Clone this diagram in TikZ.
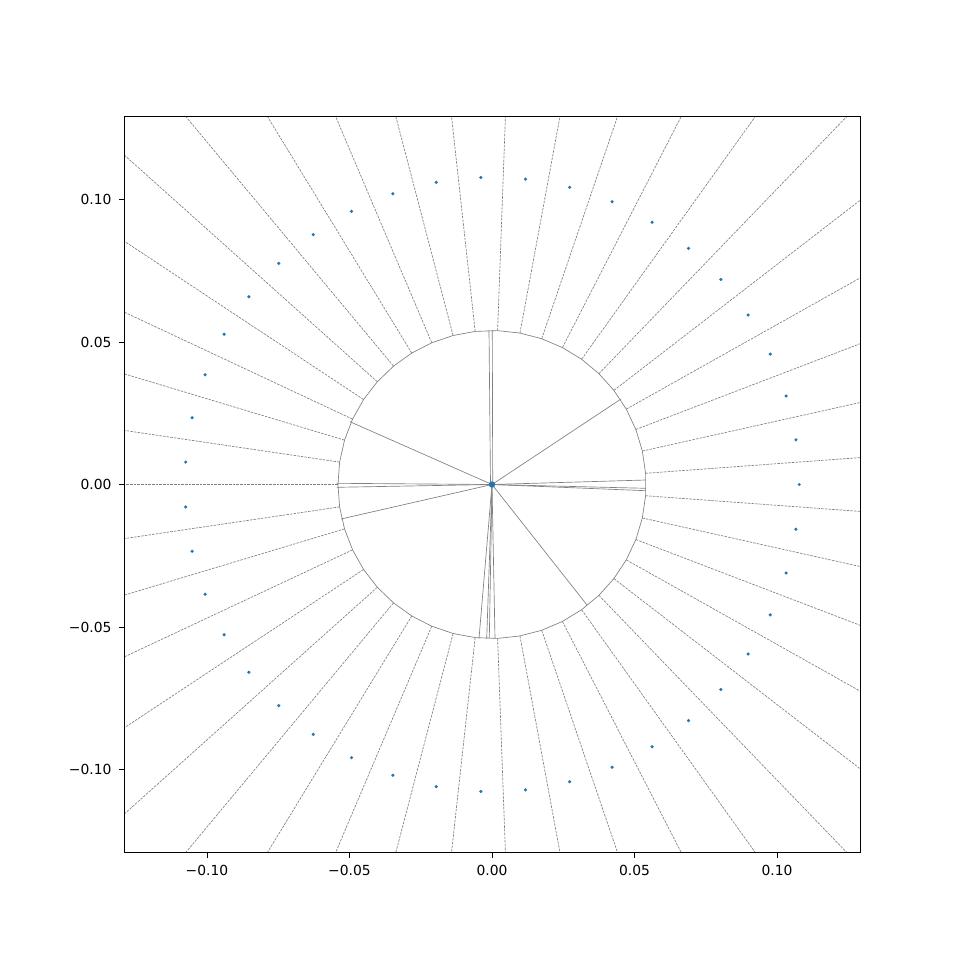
\documentclass[tikz,border=0pt]{standalone}
\usepackage{fontspec}
\setmainfont{DejaVu Sans}
\definecolor{mplblue}{HTML}{1F77B4}
\begin{document}
\begin{tikzpicture}[x=0.75pt,y=-0.75pt,
  ridge/.style={draw=black!50, line width=0.5pt},
  farridge/.style={draw=black!50, line width=0.5pt, dash pattern=on 1.9pt off 0.85pt},
  site/.style={fill=mplblue, draw=none},
  axisframe/.style={draw=black, line width=0.83pt},
  tickmark/.style={draw=black, line width=0.6pt},
  ticklabel/.style={inner sep=0pt, font=\fontsize{10.4}{12}\selectfont}]
\useasboundingbox (0,0) rectangle (960,960);
\coordinate (C) at (492,484.5);
\begin{scope}[shift={(C)}, x=2137.5pt, y=2137.5pt]
  \coordinate (LL) at (-0.129044,-0.129274);
  \coordinate (UR) at (0.129331,0.129274);
  \begin{scope}
    \clip (LL) rectangle (UR);
    \foreach \k in {0,...,42} {
      \pgfmathsetmacro{\a}{(\k+0.5)*360/43}
      \draw[farridge] (\a:0.05404) -- (\a:0.3);
    }
    \draw[ridge] ({180/43}:0.05404) \foreach \k in {1,...,42} { -- ({(\k+0.5)*360/43}:0.05404) } -- cycle;
  \end{scope}
\end{scope}
% inner ridges of the central cluster (pixel coordinates)
\begin{scope}
  \draw[ridge] (490.5,484.5) -- (489,330);
  \draw[ridge] (492.7,484.5) -- (492.3,330);
  \draw[ridge] (C) -- (621,399);
  \draw[ridge] (C) -- (646,480);
  \draw[ridge] (C) -- (646,488.3);
  \draw[ridge] (C) -- (646,490.7);
  \draw[ridge] (C) -- (587,605);
  \draw[ridge] (C) -- (479,638.5);
  \draw[ridge] (C) -- (486.7,638.5);
  \draw[ridge] (C) -- (489.3,638.5);
  \draw[ridge] (C) -- (495,638.5);
  \draw[ridge] (C) -- (336.7,483.3);
  \draw[ridge] (C) -- (336.7,487.3);
  \draw[ridge] (C) -- (350,421.7);
  \draw[ridge] (C) -- (341,519);
\end{scope}
\begin{scope}[shift={(C)}, x=2137.5pt, y=2137.5pt]
  \foreach \k in {0,...,42} {
    \fill[site] ({\k*360/43}:0.1078) circle[radius=1.3pt];
  }
  \fill[site] (0,0) circle[radius=2.4pt];
  \draw[axisframe] (LL) rectangle (UR);
  \foreach \v/\t in {-0.1/{−0.10},-0.05/{−0.05},0/{0.00},0.05/{0.05},0.1/{0.10}} {
    \draw[tickmark] (\v,-0.129274) -- ++(0,-3.65pt);
    \node[ticklabel, anchor=base] at ([yshift=-16.6pt]\v,-0.129274) {\t};
    \draw[tickmark] (-0.129044,\v) -- ++(-3.65pt,0);
    \node[ticklabel, anchor=base east] at ([xshift=-9.4pt,yshift=-3.8pt]-0.129044,\v) {\t};
  }
\end{scope}
\end{tikzpicture}
\end{document}
